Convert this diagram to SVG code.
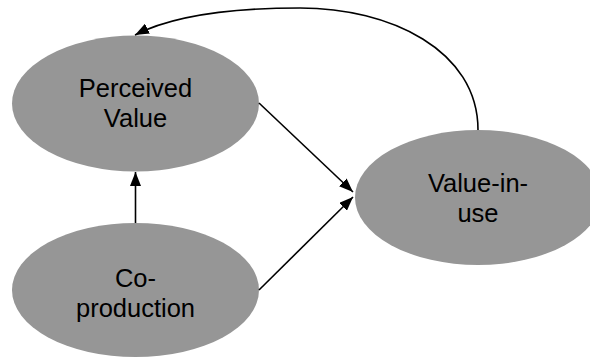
<svg xmlns="http://www.w3.org/2000/svg" width="590" height="357" viewBox="0 0 590 357">
<style>
.node ellipse{fill:#969696;stroke:none}
.node text{font-family:"Liberation Sans",Arial,sans-serif;font-size:25.5px;fill:#000;text-anchor:middle}
.edge{fill:none;stroke:#000;stroke-width:1.6;marker-end:url(#ah)}
</style>
<defs>
<marker id="ah" viewBox="0 0 14 11" refX="14" refY="5.5" markerWidth="14" markerHeight="11" markerUnits="userSpaceOnUse" orient="auto">
<path d="M0,0 L14,5.5 L0,11 Z" fill="#000"/>
</marker>
</defs>
<rect width="590" height="357" fill="#fff"/>
<g id="perceived-value" class="node">
<ellipse cx="135.5" cy="103.5" rx="123.5" ry="68"/>
<text x="135.5" y="97">Perceived</text>
<text x="135.5" y="127">Value</text>
</g>
<g id="co-production" class="node">
<ellipse cx="135.5" cy="290" rx="123.5" ry="67"/>
<text x="135.5" y="287">Co-</text>
<text x="135.5" y="317">production</text>
</g>
<g id="value-in-use" class="node">
<ellipse cx="478" cy="197.5" rx="123" ry="67.5"/>
<text x="478" y="192">Value-in-</text>
<text x="478" y="222">use</text>
</g>
<g id="connectors">
<path class="edge" d="M478,130 C478,50 390,8 300,8 C230,8 172,16 135,35"/>
<path class="edge" d="M259,103 L353,192"/>
<path class="edge" d="M259,290 L353,197"/>
<path class="edge" d="M135.5,223 L135.5,172"/>
</g>
</svg>
